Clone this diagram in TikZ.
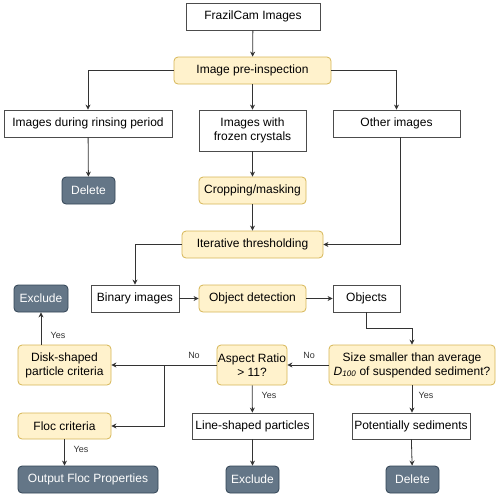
\documentclass[tikz,border=0pt]{standalone}
\usepackage{fontspec}
\setmainfont{Liberation Sans}
\usetikzlibrary{arrows.meta, positioning}
\definecolor{stepfill}{HTML}{FFF2CC}
\definecolor{stepdraw}{HTML}{D6B656}
\definecolor{endfill}{HTML}{647687}
\definecolor{enddraw}{HTML}{314354}

\begin{document}
\begin{tikzpicture}[
    x=1pt, y=-1pt,
    box/.style={rectangle, draw=black!70, fill=white, align=center, inner sep=1pt, line width=0.8pt, font=\fontsize{12}{14}\selectfont},
    process/.style={box, draw=stepdraw, fill=stepfill, rounded corners=4pt},
    final/.style={box, draw=enddraw, fill=endfill, text=white, rounded corners=4pt},
    arrow/.style={-{Stealth[length=5pt, width=5pt]}, draw=black!80, line width=0.8pt},
    label/.style={font=\fontsize{9}{10}\selectfont, text=black!80}
]
\useasboundingbox (0,0) rectangle (500,496);

% Pre-inspection
\node[box, minimum width=134, minimum height=27] (frazil) at (253,16.5) {FrazilCam Images};
\node[process, minimum width=157, minimum height=27] (preinsp) at (252.5,70.5) {Image pre-inspection};
\node[box, minimum width=168, minimum height=27] (rinsing) at (88,123.5) {Images during rinsing period};
\node[box, minimum width=107, minimum height=41] (frozen) at (252.5,130.5) {Images with\\frozen crystals};
\node[box, minimum width=127, minimum height=27] (other) at (396.5,123.5) {Other images};
\node[final, minimum width=53, minimum height=27] (delrinse) at (88.5,190.5) {Delete};
\node[process, minimum width=107, minimum height=27] (crop) at (252.5,190.5) {Cropping/masking};

% Thresholding and detection
\node[process, minimum width=141, minimum height=27] (thresh) at (252.5,244.5) {Iterative thresholding};
\node[box, minimum width=88, minimum height=27] (binary) at (135,298.5) {Binary images};
\node[process, minimum width=107, minimum height=27] (detect) at (252.5,298.5) {Object detection};
\node[box, minimum width=67, minimum height=27] (objects) at (366.5,298.5) {Objects};
\node[final, minimum width=54, minimum height=27] (excldisk) at (41,298.5) {Exclude};

% Criteria
\node[process, minimum width=166, minimum height=40] (size) at (412,365) {Size smaller than average\\\textit{D}\textsubscript{\textit{100}} of suspended sediment?};
\node[process, minimum width=70, minimum height=40] (aspect) at (252,365) {Aspect Ratio\\\textgreater{} 11?};
\node[process, minimum width=93, minimum height=40] (disk) at (64.5,365) {Disk-shaped\\particle criteria};
\node[process, minimum width=93, minimum height=26] (floc) at (64.5,426) {Floc criteria};
\node[box, minimum width=121, minimum height=26] (line) at (252.5,426) {Line-shaped particles};
\node[box, minimum width=118, minimum height=26] (potential) at (411,426) {Potentially sediments};

% Outcomes
\node[final, minimum width=140, minimum height=27] (output) at (88,479.5) {Output Floc Properties};
\node[final, minimum width=53, minimum height=27] (exclline) at (252.5,479.5) {Exclude};
\node[final, minimum width=53, minimum height=27] (delsed) at (412.5,479.5) {Delete};

\coordinate (branch) at (164,365);

\draw[arrow] (frazil) -- (preinsp);
\draw[arrow] (preinsp.west) -| (rinsing.north);
\draw[arrow] (preinsp) -- (frozen);
\draw[arrow] (preinsp.east) -| (other.north);
\draw[arrow] (rinsing) -- (delrinse);
\draw[arrow] (frozen) -- (crop);
\draw[arrow] (crop) -- (thresh);
\draw[arrow] ([xshift=3.5pt]other.south) |- (thresh.east);
\draw[arrow] (thresh.west) -| (binary.north);
\draw[arrow] (binary) -- (detect);
\draw[arrow] (detect) -- (objects);
\draw[arrow] (objects.south) -- ++(0,16) -| (size.north);

\draw[arrow] (size) -- (aspect);
\node[label] at (309,355) {No};
\draw[arrow] (aspect) -- (disk);
\node[label] at (194,355) {No};
\draw[arrow] (branch) |- (floc.east);
\draw[arrow] (aspect) -- (line);
\node[label] at (269,395) {Yes};
\draw[arrow] (size.south) -- (potential.north -| size.south);
\node[label] at (426,395) {Yes};
\draw[arrow] (line) -- (exclline);
\draw[arrow] (potential) -- (delsed);
\draw[arrow] (disk.north -| excldisk) -- (excldisk.south);
\node[label] at (58,335) {Yes};
\draw[arrow] (floc) -- (floc |- output.north);
\node[label] at (81,449) {Yes};

\end{tikzpicture}
\end{document}
